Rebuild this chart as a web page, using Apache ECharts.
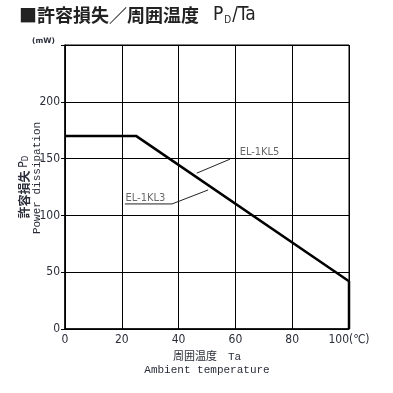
<!DOCTYPE html>
<html><head><meta charset="utf-8">
<script src="https://cdn.jsdelivr.net/npm/echarts@6/dist/echarts.min.js"></script>
<style>html,body{margin:0;padding:0;background:#fff}#c{width:393px;height:393px}</style>
</head><body><div id="c"></div>
<script>
// ---- data ----
const curveTemp  = [0, 25, 100, 100];     // ambient temperature (°C)
const curvePower = [170, 170, 42, 0];     // power dissipation (mW)
const xTickValues = [0, 20, 40, 60, 80, 100];
const yTickValues = [0, 50, 100, 150, 200, 250];
const yTickLabels = ['0', '50', '100', '150', '200', ''];
const annoNames = ['EL-1KL5', 'EL-1KL3'];
const annoTextX = [61.5, 21.3];
const annoTextY = [155.5, 115.6];
const leaderKL5X = [46.4, 58.1];
const leaderKL5Y = [137.2, 149.5];
const leaderKL3X = [21.1, 37.7, 50.4];
const leaderKL3Y = [110.1, 110.1, 122.4];

const NARROW = '"DejaVu Sans","Noto Sans CJK JP",sans-serif';
const COND = 'condensed';
const MONO = '"Liberation Mono","DejaVu Sans Mono","Noto Sans CJK JP",monospace';
const CJK = '"Noto Sans CJK JP",sans-serif';
const TXT = '#2b2e3a';

const chart = echarts.init(document.getElementById('c'), null, {renderer: 'canvas'});
const zip = (a, b) => a.map((v, i) => [v, b[i]]);

chart.setOption({
  animation: false,
  backgroundColor: '#fff',
  title: [{
    left: 14, top: 1,
    text: '{a|■許容損失／周囲温度}{g| }{p|P}{s|D}{p|/Ta}',
    textStyle: {
      rich: {
        a: {fontFamily: CJK, fontSize: 18, fontWeight: 'bold', color: '#222'},
        g: {fontFamily: CJK, fontSize: 18, width: 14},
        p: {fontFamily: NARROW, fontSize: 19, fontWeight: COND, color: '#222'},
        s: {fontFamily: NARROW, fontSize: 10, fontWeight: COND, color: '#222', verticalAlign: 'bottom', padding: [0, 1, 0, 1]}
      }
    }
  }, {
    left: 27, top: 32,
    text: '(mW)',
    textStyle: {fontFamily: NARROW, fontSize: 7.5, fontWeight: 'bold', color: TXT}
  }],
  grid: {left: 65, right: 44, top: 45, bottom: 64, show: true, borderColor: '#000', borderWidth: 1},
  xAxis: {
    type: 'value', min: 0, max: 100, interval: 20,
    axisLine: {show: true, lineStyle: {color: '#000', width: 1.5}},
    axisTick: {show: false},
    splitLine: {show: true, lineStyle: {color: '#000', width: 1}},
    axisLabel: {
      fontFamily: NARROW, fontWeight: COND, fontSize: 12, color: TXT, margin: 5,
      formatter: v => v === 100 ? '100(℃)' : String(v)
    },
    name: '周囲温度　Ta\nAmbient temperature',
    nameLocation: 'middle', nameGap: 22,
    nameTextStyle: {fontFamily: MONO, fontSize: 11, color: TXT, lineHeight: 13, verticalAlign: 'top'}
  },
  yAxis: {
    type: 'value', min: 0, max: 250, interval: 50,
    axisLine: {show: true, lineStyle: {color: '#000', width: 1.5}},
    axisTick: {show: true, inside: false, length: 4, lineStyle: {color: '#000'}},
    splitLine: {show: true, lineStyle: {color: '#000', width: 1}},
    axisLabel: {
      fontFamily: NARROW, fontWeight: COND, fontSize: 12, color: TXT, margin: 5,
      formatter: v => yTickLabels[yTickValues.indexOf(v)]
    }
  },
  graphic: [{
    type: 'text', x: 24, y: 187, rotation: Math.PI / 2,
    style: {
      text: '{a|許容損失 }{p|P}{s|D}',
      align: 'center', verticalAlign: 'middle',
      rich: {
        a: {fontFamily: CJK, fontSize: 12, fontWeight: 'bold', fill: TXT},
        p: {fontFamily: NARROW, fontWeight: COND, fontSize: 12, fill: TXT},
        s: {fontFamily: NARROW, fontWeight: COND, fontSize: 8, fill: TXT, verticalAlign: 'bottom'}
      }
    }
  }, {
    type: 'text', x: 37, y: 178, rotation: Math.PI / 2,
    style: {text: 'Power dissipation', align: 'center', verticalAlign: 'middle',
      fontFamily: MONO, fontSize: 11, fill: TXT}
  }],
  series: [{
    type: 'line', data: zip(curveTemp, curvePower), symbol: 'none',
    lineStyle: {color: '#000', width: 2.5}, z: 5
  }, {
    type: 'line', data: zip(leaderKL5X, leaderKL5Y), symbol: 'none',
    lineStyle: {color: '#222', width: 1}, z: 4
  }, {
    type: 'line', data: zip(leaderKL3X, leaderKL3Y), symbol: 'none',
    lineStyle: {color: '#222', width: 1}, z: 4
  }, {
    type: 'scatter', symbolSize: 0,
    data: annoNames.map((n, i) => ({name: n, value: [annoTextX[i], annoTextY[i]]})),
    label: {show: true, position: 'right', distance: 0, formatter: p => p.name,
      fontFamily: NARROW, fontWeight: COND, fontSize: 11, color: '#444'},
    z: 6
  }]
});
</script></body></html>
